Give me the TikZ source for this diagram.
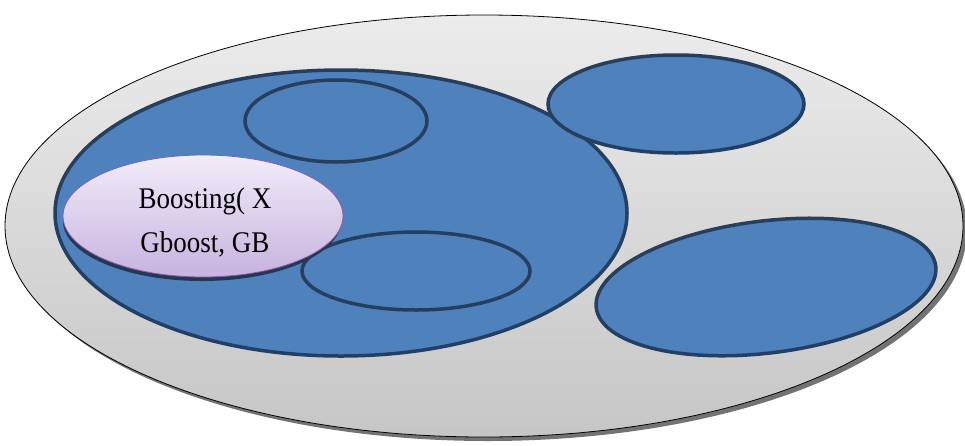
\documentclass[tikz,border=0pt]{standalone}
\usepackage{fontspec}
\setmainfont{Liberation Serif}[FakeStretch=0.9]
\usetikzlibrary{shapes.geometric}
\definecolor{blueF}{HTML}{4F81BD}
\definecolor{blueD}{HTML}{243F60}
\definecolor{lavT}{HTML}{F1ECF9}
\definecolor{lavB}{HTML}{C7B3DF}
\definecolor{lavD}{HTML}{8A5CA8}
\tikzset{
  blob/.style={ellipse, draw=blueD, fill=blueF, line width=3.5pt, inner sep=0pt},
  lbl/.style={anchor=base, inner sep=0pt, font=\fontsize{30}{44}\selectfont},
}
\begin{document}
\begin{tikzpicture}[x=1pt,y=-1pt]
\useasboundingbox (0,0) rectangle (965,445);
% outer ellipse shadow
\fill[black!55] (488,230) ellipse [x radius=479, y radius=211];
\node[ellipse, draw=black, line width=0.8pt, top color=gray!15, bottom color=gray!45,
  minimum width=958pt, minimum height=422pt, inner sep=0pt] (outer) at (484,226) {};
% big blue
\node[blob, minimum width=572pt, minimum height=286pt] (big) at (341,213) {};
\node[blob, minimum width=182pt, minimum height=82pt] (top) at (336,121) {};
\node[blob, minimum width=256pt, minimum height=98pt] (tr) at (676,104) {};
\node[blob, minimum width=228pt, minimum height=78pt] (bm) at (416,271) {};
\node[blob, minimum width=342pt, minimum height=132pt, rotate=7] (br) at (766,287) {};
% lavender with shadow
\fill[blueD!90!black] (202,221) ellipse [x radius=139, y radius=60];
\node[ellipse, draw=lavD, line width=0.8pt, top color=lavT, bottom color=lavB,
  minimum width=280pt, minimum height=122pt, inner sep=0pt] (lav) at (203,216) {};
\node[lbl] (t1) at (205,208) {Boosting( X};
\node[lbl] (t2) at (205,252) {Gboost, GB};
\end{tikzpicture}
\end{document}
